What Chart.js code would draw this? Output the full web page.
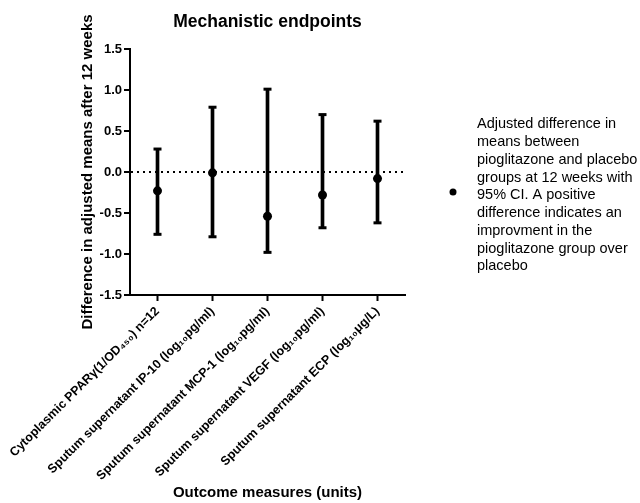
<!DOCTYPE html>
<html>
<head>
<meta charset="utf-8">
<script src="https://cdn.jsdelivr.net/npm/chart.js@4/dist/chart.umd.min.js"></script>
<style>
html,body{margin:0;padding:0;background:#fff;}
canvas{display:block;}
</style>
</head>
<body>
<canvas id="c" width="640" height="503"></canvas>
<script>
const categories = [
  "Cytoplasmic PPARγ(1/OD₄₅₀) n=12",
  "Sputum supernatant IP-10 (log₁₀pg/ml)",
  "Sputum supernatant MCP-1 (log₁₀pg/ml)",
  "Sputum supernatant VEGF (log₁₀pg/ml)",
  "Sputum supernatant ECP (log₁₀μg/L)"
];
const means = [-0.23, -0.01, -0.54, -0.28, -0.08];
const lowerCI = [-0.76, -0.79, -0.98, -0.68, -0.62];
const upperCI = [0.28, 0.79, 1.01, 0.70, 0.62];
const yTicks = [-1.5, -1.0, -0.5, 0.0, 0.5, 1.0, 1.5];
const legendLines = [
  "Adjusted difference in",
  "means between",
  "pioglitazone and placebo",
  "groups at 12 weeks with",
  "95% CI. A positive",
  "difference indicates an",
  "improvment in the",
  "pioglitazone group over",
  "placebo"
];

const FONT = "'Liberation Sans', Arial, sans-serif";

const legendPlugin = {
  id: 'sideLegend',
  afterDraw(chart) {
    const ctx = chart.ctx;
    ctx.save();
    ctx.fillStyle = '#000';
    ctx.beginPath();
    ctx.arc(453, 192, 3.5, 0, Math.PI * 2);
    ctx.fill();
    ctx.font = "14.5px " + FONT;
    ctx.textBaseline = 'top';
    ctx.textAlign = 'left';
    legendLines.forEach((t, i) => ctx.fillText(t, 477, 117 + i * 17.75));
    ctx.restore();
  }
};

new Chart(document.getElementById('c'), {
  type: 'bar',
  data: {
    labels: categories,
    datasets: [
      {
        type: 'line',
        label: 'mean',
        data: means,
        showLine: false,
        pointRadius: 4.5,
        pointBackgroundColor: '#000',
        pointBorderWidth: 0,
        order: 0
      },
      {
        type: 'line',
        label: 'upper cap',
        data: upperCI,
        showLine: false,
        pointStyle: 'line',
        pointRadius: 4,
        pointBorderWidth: 3,
        pointBorderColor: '#000',
        order: 1
      },
      {
        type: 'line',
        label: 'lower cap',
        data: lowerCI,
        showLine: false,
        pointStyle: 'line',
        pointRadius: 4,
        pointBorderWidth: 3,
        pointBorderColor: '#000',
        order: 1
      },
      {
        type: 'bar',
        label: 'CI',
        data: lowerCI.map((l, i) => [l, upperCI[i]]),
        backgroundColor: '#000',
        borderWidth: 0,
        barThickness: 3,
        order: 2
      }
    ]
  },
  options: {
    responsive: false,
    animation: false,
    devicePixelRatio: 1,
    layout: { padding: { left: 78, right: 235, top: 0, bottom: 0 } },
    plugins: {
      legend: { display: false },
      tooltip: { enabled: false },
      title: {
        display: true,
        text: 'Mechanistic endpoints',
        fullSize: false,
        color: '#000',
        font: { family: FONT, size: 17.5, weight: 'bold' },
        padding: { top: 11.5, bottom: 16.5 }
      }
    },
    scales: {
      x: {
        type: 'category',
        offset: true,
        afterFit(scale) { scale.height = 503 - 295; scale.paddingLeft = 0; },
        grid: { color: 'transparent', offset: false, drawTicks: true, tickColor: '#000', tickWidth: 2, tickLength: 6 },
        border: { display: true, color: '#000', width: 2 },
        ticks: {
          color: '#000',
          font: { family: FONT, size: 12.5, weight: 'bold' },
          maxRotation: 45,
          minRotation: 45,
          padding: 3,
          autoSkip: false
        },
        title: {
          display: true,
          text: 'Outcome measures (units)',
          color: '#000',
          font: { family: FONT, size: 15, weight: 'bold' },
          padding: { top: 0, bottom: 1 }
        }
      },
      y: {
        min: -1.5,
        max: 1.5,
        afterFit(scale) { scale.width = 52; },
        afterBuildTicks(scale) { scale.ticks = yTicks.map(v => ({ value: v })); },
        grid: {
          color: (c) => (c.tick && c.tick.value === 0) ? '#000' : 'transparent',
          lineWidth: 2,
          tickColor: '#000',
          tickWidth: 2,
          tickLength: 6
        },
        border: { display: true, color: '#000', width: 2, dash: [2, 4] },
        ticks: {
          color: '#000',
          font: { family: FONT, size: 13, weight: 'bold' },
          padding: 2,
          callback: (v) => Number(v).toFixed(1)
        },
        title: {
          display: true,
          text: 'Difference in adjusted means after 12 weeks',
          color: '#000',
          font: { family: FONT, size: 15, weight: 'bold' },
          padding: { top: 1, bottom: 0 }
        }
      }
    }
  },
  plugins: [legendPlugin]
});
</script>
</body>
</html>
